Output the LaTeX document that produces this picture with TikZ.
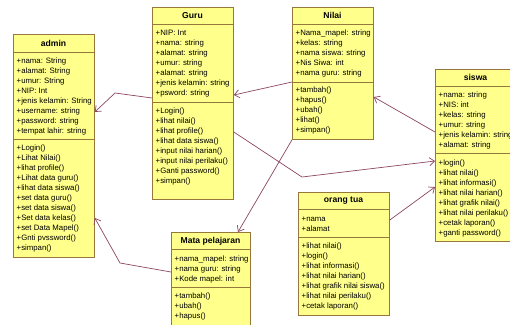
\documentclass[tikz,border=0pt]{standalone}
\usepackage{fontspec}
\setmainfont{Liberation Sans}
\usetikzlibrary{arrows.meta}
\definecolor{classfill}{RGB}{255,255,140}
\definecolor{classborder}{RGB}{150,120,60}
\definecolor{assocline}{RGB}{140,70,100}
\tikzset{
  classbox/.style={draw=classborder, fill=classfill, line width=0.8pt, anchor=north west, inner sep=0pt},
  classname/.style={font=\fontsize{8.6}{10}\selectfont\bfseries, inner sep=0pt},
  members/.style={font=\fontsize{7.8}{10}\selectfont, align=left, anchor=north west, inner sep=0pt},
  sepline/.style={draw=classborder, line width=0.8pt},
  assoc/.style={draw=assocline, line width=0.7pt, -{Straight Barb[length=5pt,width=8pt]}}
}
\begin{document}
\begin{tikzpicture}[x=1pt, y=-1pt]
  \fill[white] (0,0) rectangle (510,324);
  \useasboundingbox (0,0) rectangle (510,324);
  % admin
  \node[classbox, minimum width=81pt, minimum height=223pt] (admin) at (13,34) {};
  \node[classname] (admin-name) at (53.5,43) {admin};
  \draw[sepline] (admin.west |- 0,52) -- (admin.east |- 0,52);
  \draw[sepline] (admin.west |- 0,139) -- (admin.east |- 0,139);
  \node[members] (admin-att) at (16.5,56.3) {\strut+nama: String\\+alamat: String\\+umur: String\\+NIP: Int\\+jenis kelamin: String\\+username: string\\+password: string\\+tempat lahir: string};
  \node[members] (admin-op) at (16.5,143.3) {\strut+Login()\\+Lihat Nilai()\\+lihat profile()\\+Lihat data guru()\\+lihat data siswa()\\+set data guru()\\+set data siswa()\\+Set data kelas()\\+set Data Mapel()\\+Gnti pvssword()\\+simpan()};
  % Guru
  \node[classbox, minimum width=81pt, minimum height=192pt] (guru) at (152,7) {};
  \node[classname] (guru-name) at (192.5,15.5) {Guru};
  \draw[sepline] (guru.west |- 0,24) -- (guru.east |- 0,24);
  \draw[sepline] (guru.west |- 0,102) -- (guru.east |- 0,102);
  \node[members] (guru-att) at (155.5,28.3) {\strut+NIP: Int\\+nama: string\\+alamat: string\\+umur: string\\+alamat: string\\+jenis kelamin: string\\+psword: string};
  \node[members] (guru-op) at (155.5,106.3) {\strut+Login()\\+lihat nilai()\\+lihat profile()\\+lihat data siswa()\\+input nilai harian()\\+input nilai perilaku()\\+Ganti password()\\+simpan()};
  % Nilai
  \node[classbox, minimum width=81pt, minimum height=132pt] (nilai) at (292,7) {};
  \node[classname] (nilai-name) at (332.5,15.5) {Nilai};
  \draw[sepline] (nilai.west |- 0,24) -- (nilai.east |- 0,24);
  \draw[sepline] (nilai.west |- 0,82) -- (nilai.east |- 0,82);
  \node[members] (nilai-att) at (295.5,28.3) {\strut+Nama\_mapel: string\\+kelas: string\\+nama siswa: string\\+Nis Siwa: int\\+nama guru: string};
  \node[members] (nilai-op) at (295.5,85.3) {\strut+tambah()\\+hapus()\\+ubah()\\+lihat()\\+simpan()};
  % siswa
  \node[classbox, minimum width=82pt, minimum height=172pt] (siswa) at (435,69) {};
  \node[classname] (siswa-name) at (475.5,77.5) {siswa};
  \draw[sepline] (siswa.west |- 0,86) -- (siswa.east |- 0,86);
  \draw[sepline] (siswa.west |- 0,153) -- (siswa.east |- 0,153);
  \node[members] (siswa-att) at (438.5,90.3) {\strut+nama: string\\+NIS: int\\+kelas: string\\+umur: string\\+jenis kelamin: string\\+alamat: string};
  \node[members] (siswa-op) at (438.5,157.8) {\strut+login()\\+lihat nilai()\\+lihat informasi()\\+lihat nilai harian()\\+lihat grafik nilai()\\+lihat nilai perilaku()\\+cetak laporan()\\+ganti password()};
  % orang tua
  \node[classbox, minimum width=91pt, minimum height=123pt] (ortu) at (298,192) {};
  \node[classname] (ortu-name) at (343.5,200.5) {orang tua};
  \draw[sepline] (ortu.west |- 0,209) -- (ortu.east |- 0,209);
  \draw[sepline] (ortu.west |- 0,237) -- (ortu.east |- 0,237);
  \node[members] (ortu-att) at (301.5,213.8) {\strut+nama\\+alamat};
  \node[members] (ortu-op) at (301.5,241.3) {\strut+lihat nilai()\\+login()\\+lihat informasi()\\+lihat nilai harian()\\+lihat grafik nilai siswa()\\+lihat nilai perilaku()\\+cetak laporan()};
  % Mata pelajaran
  \node[classbox, minimum width=79pt, minimum height=100pt] (mapel) at (171,232) {};
  \node[classname] (mapel-name) at (210.5,241) {Mata pelajaran};
  \draw[sepline] (mapel.west |- 0,249) -- (mapel.east |- 0,249);
  \draw[sepline] (mapel.west |- 0,287) -- (mapel.east |- 0,287);
  \node[members] (mapel-att) at (174.5,253.8) {\strut+nama\_mapel: string\\+nama guru: string\\+Kode mapel: int};
  \node[members] (mapel-op) at (174.5,291.3) {\strut+tambah()\\+ubah()\\+hapus()};
  % associations
  \coordinate (bend-ga) at (115,93);
  \coordinate (bend-ma) at (120,263);
  \coordinate (bend-gs) at (302,177);
  \draw[assoc] (guru.west |- 0,98) -- (bend-ga) -- (admin.east |- 0,112);
  \draw[assoc] (mapel.west |- 0,272) -- (bend-ma) -- (admin.east |- 0,218);
  \draw[assoc] (nilai.west |- 0,82) -- (guru.east |- 0,95);
  \draw[assoc] (guru.east |- 0,132) -- (bend-gs) -- (siswa.west |- 0,161);
  \draw[assoc] (siswa.west |- 0,132) -- (nilai.east |- 0,97);
  \draw[assoc] (nilai.south west) -- (mapel.north -| 238,0);
  \draw[assoc] (ortu.east |- 0,220) -- (siswa.west |- 0,187);
\end{tikzpicture}
\end{document}
